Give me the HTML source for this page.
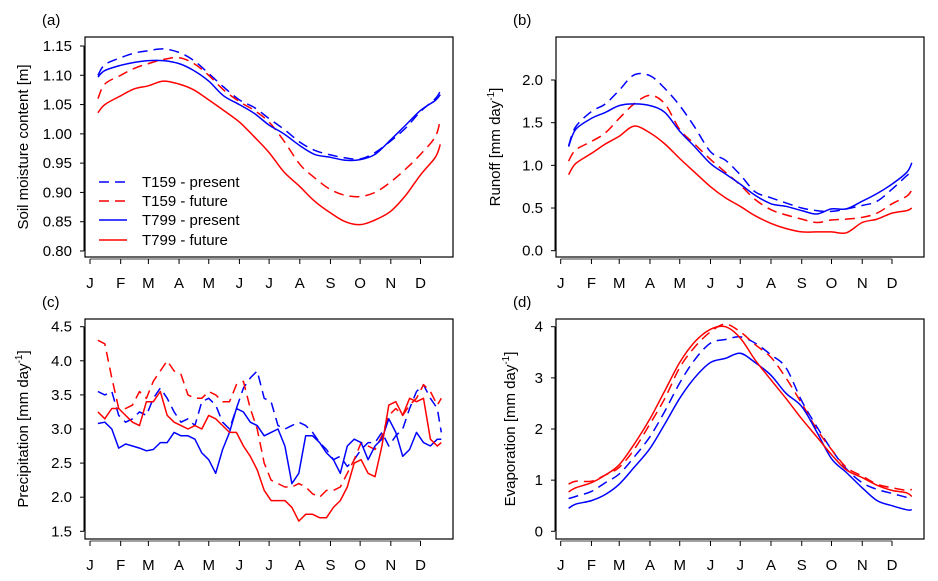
<!DOCTYPE html>
<html><head><meta charset="utf-8">
<style>
html,body{margin:0;padding:0;background:#fff;}
svg{display:block;font-family:"Liberation Sans",Arial,sans-serif;}
</style></head>
<body>
<svg id="chart" width="938" height="581" viewBox="0 0 938 581" xmlns="http://www.w3.org/2000/svg"></svg>
<script>
const months = ["J","F","M","A","M","J","J","A","S","O","N","D"];
const monthDays = [1,32,60,91,121,152,182,213,244,274,305,335];
const seriesNames = ["T159 - present","T159 - future","T799 - present","T799 - future"];
const smoothDays = [9,16,32,46,60,75,91,106,121,136,152,167,182,197,213,228,244,259,274,289,305,320,335,350,355];

const soilT159p = [1.100,1.118,1.130,1.138,1.142,1.145,1.139,1.125,1.103,1.080,1.058,1.045,1.026,1.008,0.986,0.972,0.964,0.959,0.957,0.968,0.988,1.010,1.038,1.060,1.073];
const soilT159f = [1.060,1.085,1.100,1.112,1.120,1.127,1.130,1.120,1.100,1.075,1.055,1.040,1.020,0.988,0.948,0.925,0.905,0.895,0.893,0.900,0.918,0.940,0.965,0.995,1.025];
const soilT799p = [1.097,1.108,1.117,1.122,1.125,1.125,1.120,1.108,1.090,1.065,1.050,1.035,1.015,1.000,0.980,0.965,0.960,0.955,0.956,0.965,0.990,1.015,1.040,1.057,1.067];
const soilT799f = [1.036,1.050,1.065,1.077,1.082,1.090,1.085,1.075,1.058,1.040,1.020,0.995,0.968,0.935,0.910,0.885,0.865,0.850,0.845,0.853,0.868,0.895,0.930,0.960,0.982];

const runT159p = [1.23,1.45,1.63,1.72,1.88,2.06,2.05,1.90,1.70,1.45,1.16,1.06,0.89,0.69,0.62,0.56,0.50,0.47,0.46,0.49,0.53,0.58,0.72,0.88,0.92];
const runT159f = [1.05,1.18,1.28,1.38,1.55,1.72,1.82,1.72,1.42,1.25,1.07,0.92,0.77,0.60,0.48,0.42,0.37,0.33,0.36,0.37,0.39,0.44,0.55,0.64,0.71];
const runT799p = [1.22,1.42,1.55,1.62,1.70,1.72,1.70,1.62,1.40,1.22,1.02,0.90,0.78,0.65,0.55,0.52,0.47,0.43,0.49,0.49,0.58,0.67,0.78,0.92,1.03];
const runT799f = [0.89,1.02,1.14,1.25,1.34,1.46,1.38,1.25,1.08,0.92,0.75,0.62,0.52,0.41,0.32,0.26,0.22,0.22,0.22,0.21,0.33,0.37,0.44,0.47,0.50];

const evaT159p = [0.64,0.68,0.78,0.95,1.12,1.45,1.85,2.35,2.90,3.35,3.68,3.75,3.80,3.68,3.45,3.20,2.55,2.05,1.60,1.22,0.95,0.82,0.74,0.66,0.62];
const evaT159f = [0.92,0.98,0.98,1.10,1.25,1.60,2.10,2.60,3.20,3.60,3.90,4.05,3.90,3.65,3.40,3.00,2.50,2.00,1.60,1.25,1.08,0.92,0.85,0.80,0.82];
const evaT799p = [0.45,0.53,0.60,0.72,0.92,1.25,1.62,2.10,2.60,3.00,3.30,3.38,3.48,3.30,3.05,2.70,2.44,1.95,1.42,1.15,0.85,0.60,0.50,0.42,0.42];
const evaT799f = [0.77,0.85,0.95,1.10,1.30,1.70,2.20,2.75,3.30,3.70,3.95,4.00,3.78,3.35,2.96,2.60,2.20,1.85,1.50,1.20,1.05,0.90,0.80,0.75,0.68];

const precipDays = [9,16,23,30,37,44,51,58,65,72,79,86,93,100,107,114,121,128,135,142,149,156,163,170,177,184,191,198,205,212,219,226,233,240,247,254,261,268,275,282,289,296,303,310,317,324,331,338,345,352,356];
const preT159p = [3.55,3.5,3.55,3.2,3.1,3.15,3.25,3.2,3.45,3.6,3.45,3.25,3.1,3.15,3.05,3.4,3.45,3.35,3.1,3.0,3.3,3.6,3.75,3.85,3.45,3.4,3.05,3.0,3.05,3.1,3.05,2.95,2.8,2.7,2.55,2.6,2.45,2.55,2.7,2.8,2.8,2.95,2.75,2.9,3.0,3.3,3.55,3.65,3.45,3.3,2.95];
const preT159f = [4.3,4.25,3.75,3.3,3.3,3.35,3.55,3.45,3.7,3.85,4.0,3.85,3.8,3.5,3.45,3.45,3.55,3.5,3.4,3.4,3.65,3.7,3.3,3.0,2.5,2.25,2.2,2.15,2.15,2.2,2.15,2.05,2.0,2.1,2.1,2.15,2.35,2.55,2.8,2.75,2.7,2.9,3.2,3.3,3.2,3.35,3.45,3.65,3.55,3.35,3.45];
const preT799p = [3.08,3.1,3.0,2.72,2.78,2.75,2.72,2.68,2.7,2.8,2.8,2.95,2.9,2.9,2.85,2.65,2.55,2.35,2.7,2.95,3.3,3.25,3.1,3.05,2.9,2.95,3.0,2.75,2.2,2.35,2.9,2.9,2.8,2.65,2.55,2.35,2.75,2.85,2.8,2.55,2.75,2.85,3.15,2.95,2.6,2.7,2.95,2.8,2.75,2.85,2.85];
const preT799f = [3.25,3.15,3.3,3.3,3.2,3.1,3.05,3.4,3.4,3.55,3.2,3.1,3.05,3.0,3.05,3.0,3.2,3.15,3.05,2.95,2.95,2.75,2.6,2.4,2.1,1.95,1.95,1.95,1.85,1.65,1.75,1.75,1.7,1.7,1.85,1.95,2.15,2.5,2.55,2.35,2.3,2.75,3.35,3.4,3.2,3.45,3.4,3.45,2.85,2.75,2.8];

const soilTicks = [0.80,0.85,0.90,0.95,1.00,1.05,1.10,1.15];
const runTicks = [0.0,0.5,1.0,1.5,2.0];
const preTicks = [1.5,2.0,2.5,3.0,3.5,4.0,4.5];
const evaTicks = [0,1,2,3,4];

const NS="http://www.w3.org/2000/svg";
const svg=document.getElementById("chart");
function mk(tag,attrs,parent){const e=document.createElementNS(NS,tag);for(const k in attrs)e.setAttribute(k,attrs[k]);(parent||svg).appendChild(e);return e;}

function smoothPath(pts){
  let d="M"+pts[0][0].toFixed(1)+","+pts[0][1].toFixed(1);
  for(let i=0;i<pts.length-1;i++){
    const p0=pts[Math.max(0,i-1)],p1=pts[i],p2=pts[i+1],p3=pts[Math.min(pts.length-1,i+2)];
    const c1=[p1[0]+(p2[0]-p0[0])/6,p1[1]+(p2[1]-p0[1])/6];
    const c2=[p2[0]-(p3[0]-p1[0])/6,p2[1]-(p3[1]-p1[1])/6];
    d+="C"+c1[0].toFixed(1)+","+c1[1].toFixed(1)+" "+c2[0].toFixed(1)+","+c2[1].toFixed(1)+" "+p2[0].toFixed(1)+","+p2[1].toFixed(1);
  }
  return d;
}
function linePath(pts){return "M"+pts.map(p=>p[0].toFixed(1)+","+p[1].toFixed(1)).join("L");}

function panel(cfg){
  const g=mk("g",{});
  
  
  const xs=d=>cfg.xJ+(d-1)*(cfg.xD-cfg.xJ)/334;
  const ys=v=>cfg.yB+(v-cfg.vB)*(cfg.yT-cfg.yB)/(cfg.vT-cfg.vB);
  const box=mk("rect",{x:cfg.L,y:cfg.T,width:cfg.R-cfg.L,height:cfg.B-cfg.T,fill:"none",stroke:"#000","stroke-width":1.2},g);
  
  
  const ya=mk("g",{},g);
  
  
  const t0=ys(cfg.ticks[0]),t1=ys(cfg.ticks[cfg.ticks.length-1]);
  mk("line",{x1:cfg.L-1,x2:cfg.L-1,y1:t0,y2:t1,stroke:"#000","stroke-width":1},ya);
  cfg.ticks.forEach(v=>{
    const y=ys(v);
    mk("line",{x1:cfg.L-5,x2:cfg.L-1,y1:y,y2:y,stroke:"#000","stroke-width":1},ya);
    const t=mk("text",{x:cfg.L-13,y:y+5,"text-anchor":"end","font-size":15,fill:"#000"},ya);
    t.textContent=cfg.fmt(v);
    
    
  });
  const xa=mk("g",{},g);
  
  
  mk("line",{x1:xs(monthDays[0]),x2:xs(monthDays[11]),y1:cfg.B+2,y2:cfg.B+2,stroke:"#000","stroke-width":0.8},xa);
  monthDays.forEach((d,i)=>{
    const x=xs(d);
    mk("line",{x1:x,x2:x,y1:cfg.B+2,y2:cfg.B+7,stroke:"#000","stroke-width":1},xa);
    const t=mk("text",{x:x,y:cfg.B+31,"text-anchor":"middle","font-size":15,fill:"#000"},xa);
    t.textContent=months[i];
    
    
  });
  const yt=mk("text",{transform:"translate("+cfg.ytx+","+((cfg.T+cfg.B)/2)+") rotate(-90)","text-anchor":"middle","font-size":15,fill:"#000"},g);
  yt.innerHTML=cfg.ytitle;
  
  
  const pl=mk("text",{x:cfg.L-43,y:cfg.T-12,"font-size":15,fill:"#000"},g);
  pl.textContent=cfg.label;
  
  
  const styles=[["#0000ff","10,6"],["#ff0000","10,6"],["#0000ff",""],["#ff0000",""]];
  const slugs=["series-t159-present","series-t159-future","series-t799-present","series-t799-future"];
  cfg.series.forEach((vals,i)=>{
    const pts=vals.map((v,j)=>[xs(cfg.days[j]),ys(v)]);
    const p=mk("path",{d:cfg.smooth?smoothPath(pts):linePath(pts),fill:"none",stroke:styles[i][0],"stroke-width":1.5,"stroke-dasharray":styles[i][1],"stroke-linejoin":"round"},g);
    
    
  });
  return g;
}

const f2=v=>v.toFixed(2), f1=v=>v.toFixed(1), f0=v=>v.toFixed(0);
panel({name:"panel-a-soil-moisture",label:"(a)",L:85,R:453,T:37,B:257,xJ:90,xD:420.5,yB:251,yT:46,vB:0.80,vT:1.15,ticks:soilTicks,fmt:f2,ytx:28,ytitle:"Soil moisture content [m]",days:smoothDays,smooth:true,series:[soilT159p,soilT159f,soilT799p,soilT799f]});
panel({name:"panel-b-runoff",label:"(b)",L:556,R:924,T:37,B:257,xJ:560.7,xD:892,yB:250.7,yT:80,vB:0,vT:2.0,ticks:runTicks,fmt:f1,ytx:500,ytitle:'Runoff [mm day<tspan dy="-6" font-size="10">-1</tspan><tspan dy="6">]</tspan>',days:smoothDays,smooth:true,series:[runT159p,runT159f,runT799p,runT799f]});
panel({name:"panel-c-precipitation",label:"(c)",L:85,R:453,T:319,B:539,xJ:90,xD:420.5,yB:531.3,yT:326.7,vB:1.5,vT:4.5,ticks:preTicks,fmt:f1,ytx:28,ytitle:'Precipitation [mm day<tspan dy="-6" font-size="10">-1</tspan><tspan dy="6">]</tspan>',days:precipDays,smooth:false,series:[preT159p,preT159f,preT799p,preT799f]});
panel({name:"panel-d-evaporation",label:"(d)",L:556,R:924,T:319,B:539,xJ:560.7,xD:892,yB:531.3,yT:326.7,vB:0,vT:4,ticks:evaTicks,fmt:f0,ytx:515,ytitle:'Evaporation [mm day<tspan dy="-6" font-size="10">-1</tspan><tspan dy="6">]</tspan>',days:smoothDays,smooth:true,series:[evaT159p,evaT159f,evaT799p,evaT799f]});

const lg=mk("g",{});


const lstyles=[["#0000ff","10,6"],["#ff0000","10,6"],["#0000ff",""],["#ff0000",""]];
const ly=[182,201,220,240];
seriesNames.forEach((n,i)=>{
  const e=mk("g",{},lg);
  
  
  mk("line",{x1:99,x2:127,y1:ly[i],y2:ly[i],stroke:lstyles[i][0],"stroke-width":1.5,"stroke-dasharray":lstyles[i][1]},e);
  const t=mk("text",{x:142,y:ly[i]+5,"font-size":15,fill:"#000"},e);
  t.textContent=n;
});
</script>
</body></html>
